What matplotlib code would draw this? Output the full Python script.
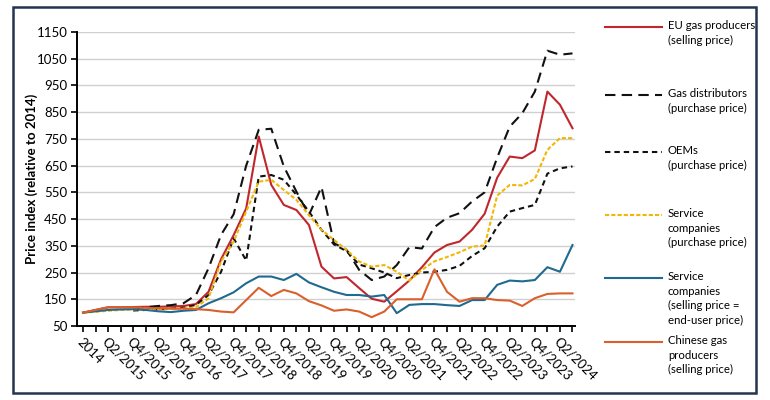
import matplotlib
matplotlib.use("Agg")
import matplotlib.pyplot as plt
import matplotlib.patches as mpatches
import numpy as np

plt.rcParams["font.family"] = ["Lato", "DejaVu Sans"]

# ── Data (price index, 2014 = 100) ───────────────────────────────────────────
quarters = ["2014"] + [f"Q{q}/{y}" for y in range(2015, 2025) for q in range(1, 5)][:39]

eu_producers = [100, 110, 120, 120, 121, 122, 122, 123, 125, 132,
                178, 300, 390, 490, 759, 578, 503, 484, 428, 272,
                228, 233, 192, 152, 141, 180, 220, 270, 325, 353,
                366, 410, 470, 605, 684, 678, 707, 927, 878, 790]

gas_distributors = [None, None, None, None, 112, 120, 125, 128, 135, 166,
                    266, 391, 468, 650, 784, 788, 647, 553, 465, 570,
                    360, 335, 260, 222, 235, 278, 345, 340, 420, 455,
                    472, 516, 550, 680, 796, 846, 927, 1080, 1065, 1070]

oems = [None, None, None, None, 108, 110, 112, 115, 118, 129,
        166, 253, 378, 295, 609, 615, 597, 541, 478, 410,
        355, 330, 280, 266, 250, 229, 241, 250, 253, 260,
        275, 312, 341, 422, 478, 491, 503, 620, 640, 647]

service_purchase = [100, 103, 107, 110, 112, 112, 113, 114, 115, 120,
                    154, 291, 366, 478, 590, 597, 559, 522, 465, 410,
                    372, 335, 291, 272, 278, 253, 220, 260, 292, 308,
                    326, 347, 351, 538, 578, 576, 600, 709, 753, 753]

service_selling = [100, 105, 110, 112, 113, 110, 105, 102, 107, 110,
                   135, 154, 176, 210, 235, 235, 222, 245, 213, 195,
                   178, 166, 166, 160, 166, 98, 129, 132, 132, 128,
                   125, 147, 147, 204, 220, 217, 222, 270, 253, 353]

chinese_producers = [100, 110, 120, 120, 120, 118, 116, 115, 115, 113,
                     110, 104, 101, 147, 193, 162, 185, 172, 143, 127,
                     107, 112, 104, 83, 104, 150, 150, 150, 262, 178,
                     141, 154, 154, 147, 145, 125, 154, 170, 172, 172]

y_ticks = list(range(50, 1151, 100))

C_EU = "#C0272D"
C_DIST = "#111111"
C_OEM = "#111111"
C_SPUR = "#F2B705"
C_SSEL = "#1F6A8E"
C_CN = "#D9602C"

series = [
    (eu_producers, C_EU, "-", None, "EU gas producers\n(selling price)"),
    (gas_distributors, C_DIST, "--", (5, 3), "Gas distributors\n(purchase price)"),
    (oems, C_OEM, "--", (2.6, 1.9), "OEMs\n(purchase price)"),
    (service_purchase, C_SPUR, "--", (2.0, 1.0), "Service\ncompanies\n(purchase price)"),
    (service_selling, C_SSEL, "-", None, "Service\ncompanies\n(selling price =\nend-user price)"),
    (chinese_producers, C_CN, "-", None, "Chinese gas\nproducers\n(selling price)"),
]

fig = plt.figure(figsize=(7.7, 4.0), dpi=100)
ax = fig.add_axes([77 / 770, 74 / 400, 498 / 770, 294 / 400])

x = np.arange(len(quarters))
for vals, col, ls, dash, lab in series:
    v = np.array([np.nan if a is None else a for a in vals], dtype=float)
    line, = ax.plot(x, v, color=col, linewidth=1.5, linestyle=ls)
    if dash is not None:
        line.set_dashes(dash)

ax.set_xlim(-0.48, len(quarters) - 0.8)
ax.set_ylim(50, 1150)
ax.set_yticks(y_ticks)
ax.set_yticklabels([str(t) for t in y_ticks], fontsize=9.5)
ax.set_xticks(x)
ax.set_xticklabels([q if i % 2 == 0 else "" for i, q in enumerate(quarters)],
                   rotation=-45, ha="left", va="top", rotation_mode="anchor",
                   fontsize=9.5)
ax.tick_params(axis="x", length=4, width=1.2, direction="out", pad=3)
ax.tick_params(axis="y", length=4, width=1.2, direction="out", pad=3)

ax.yaxis.grid(True, color="#D0D0D0", linewidth=1.0)
ax.set_axisbelow(True)
for s in ("top", "right"):
    ax.spines[s].set_visible(False)
for s in ("left", "bottom"):
    ax.spines[s].set_color("black")
    ax.spines[s].set_linewidth(1.4)

ax.set_ylabel("Price index (relative to 2014)", fontsize=9.5, fontweight="bold",
              labelpad=-1)

# ── Legend (manual, line aligned with first text line) ──────────────────────
leg_y = [27, 95, 152, 215, 278, 342]
for (vals, col, ls, dash, lab), yy in zip(series, leg_y):
    fy = 1 - yy / 400
    ln = plt.Line2D([605 / 770, 662 / 770], [fy, fy], transform=fig.transFigure,
                    color=col, linewidth=1.5, linestyle=ls)
    if dash is not None:
        ln.set_dashes(dash)
    fig.add_artist(ln)
    fig.text(668 / 770, fy + 7 / 400, lab, fontsize=8.2, ha="left", va="top",
             linespacing=1.4, transform=fig.transFigure)

# outer frame
fig.add_artist(mpatches.Rectangle((13 / 770, 7 / 400), 743 / 770, 386 / 400,
                                  transform=fig.transFigure, fill=False,
                                  edgecolor="#243450", linewidth=1.8))

fig.savefig("out.png", dpi=100)
